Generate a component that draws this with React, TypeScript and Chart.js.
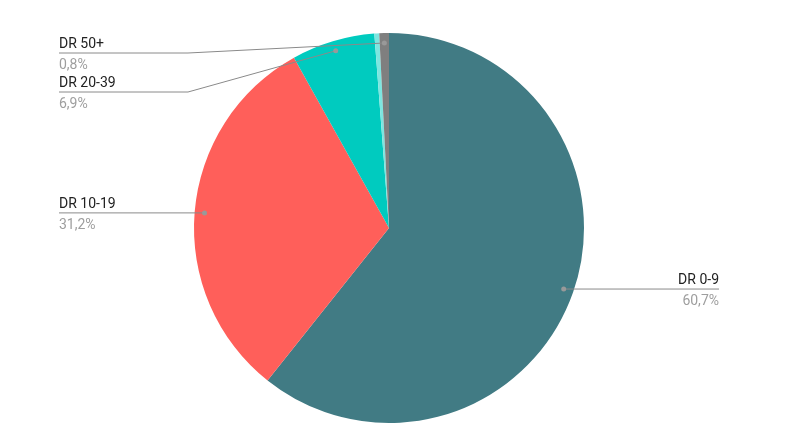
import React, { useEffect, useRef } from "react";
import { Chart, registerables } from "chart.js";

Chart.register(...registerables);

const categories = ["DR 0-9", "DR 10-19", "DR 20-39", "DR 40-49", "DR 50+"];
const shares = [60.7, 31.2, 6.9, 0.4, 0.8];
const sliceColors = ["#417B84", "#FF5F5A", "#00CBBF", "#7DE6E0", "#7F7F7F"];

const fmtPct = (v: number) => v.toFixed(1).replace(".", ",") + "%";

const leaderPlugin = {
  id: "leaders",
  afterDraw(chart: any) {
    const ctx = chart.ctx;
    const meta = chart.getDatasetMeta(0);
    const ds = chart.data.datasets[0];
    const labels = chart.data.labels;
    const left: any[] = [];
    const right: any[] = [];
    meta.data.forEach((arc: any, i: number) => {
      const v = ds.data[i];
      if (v < 0.5) return;
      const p = arc.getProps(["x", "y", "startAngle", "endAngle", "outerRadius"], true);
      const mid = (p.startAngle + p.endAngle) / 2;
      const r = p.outerRadius * 0.949;
      const item = {
        i,
        px: p.x + Math.cos(mid) * r,
        py: p.y + Math.sin(mid) * r,
        cx: p.x,
        cy: p.y,
        R: p.outerRadius,
        right: Math.cos(mid) >= 0,
      };
      (item.right ? right : left).push(item);
    });
    const minY = chart.chartArea.top + 20;
    const drawGroup = (group: any[], isRight: boolean) => {
      group.sort((a, b) => a.py - b.py);
      let prev = -Infinity;
      group.forEach((it) => {
        const lineY = Math.max(it.py, prev + 39, minY);
        prev = lineY;
        const dir = isRight ? 1 : -1;
        const elbowX = it.cx + dir * (it.R + 6);
        const labelX = it.cx + dir * 330;
        ctx.save();
        ctx.strokeStyle = "#8a8a8a";
        ctx.lineWidth = 1;
        ctx.beginPath();
        ctx.moveTo(it.px, it.py);
        if (Math.abs(lineY - it.py) > 0.5) {
          ctx.lineTo(elbowX, lineY);
        }
        ctx.lineTo(labelX, lineY);
        ctx.stroke();
        ctx.fillStyle = "#999999";
        ctx.beginPath();
        ctx.arc(it.px, it.py, 2.5, 0, Math.PI * 2);
        ctx.fill();
        ctx.font = "14px Roboto";
        ctx.textAlign = isRight ? "right" : "left";
        ctx.textBaseline = "alphabetic";
        ctx.fillStyle = "#222222";
        ctx.fillText(labels[it.i], labelX, lineY - 5);
        ctx.fillStyle = "#9e9e9e";
        ctx.fillText(fmtPct(ds.data[it.i]), labelX, lineY + 16);
        ctx.restore();
      });
    };
    drawGroup(left, false);
    drawGroup(right, true);
  },
};

export default function App() {
  const ref = useRef<HTMLCanvasElement | null>(null);
  useEffect(() => {
    if (!ref.current) return;
    const chart = new Chart(ref.current, {
      type: "pie",
      data: {
        labels: categories,
        datasets: [
          {
            data: shares,
            backgroundColor: sliceColors,
            borderWidth: 0,
          },
        ],
      },
      options: {
        responsive: false,
        animation: false,
        layout: { padding: { top: 33, bottom: 23, left: 0, right: 9 } },
        plugins: {
          legend: { display: false },
          tooltip: { enabled: false },
        },
      },
      plugins: [leaderPlugin],
    });
    return () => chart.destroy();
  }, []);
  return (
    <div style={{ position: "fixed", left: 0, top: 0, width: 787, height: 446, background: "#fff" }}>
      <canvas ref={ref} width={787} height={446} />
    </div>
  );
}
